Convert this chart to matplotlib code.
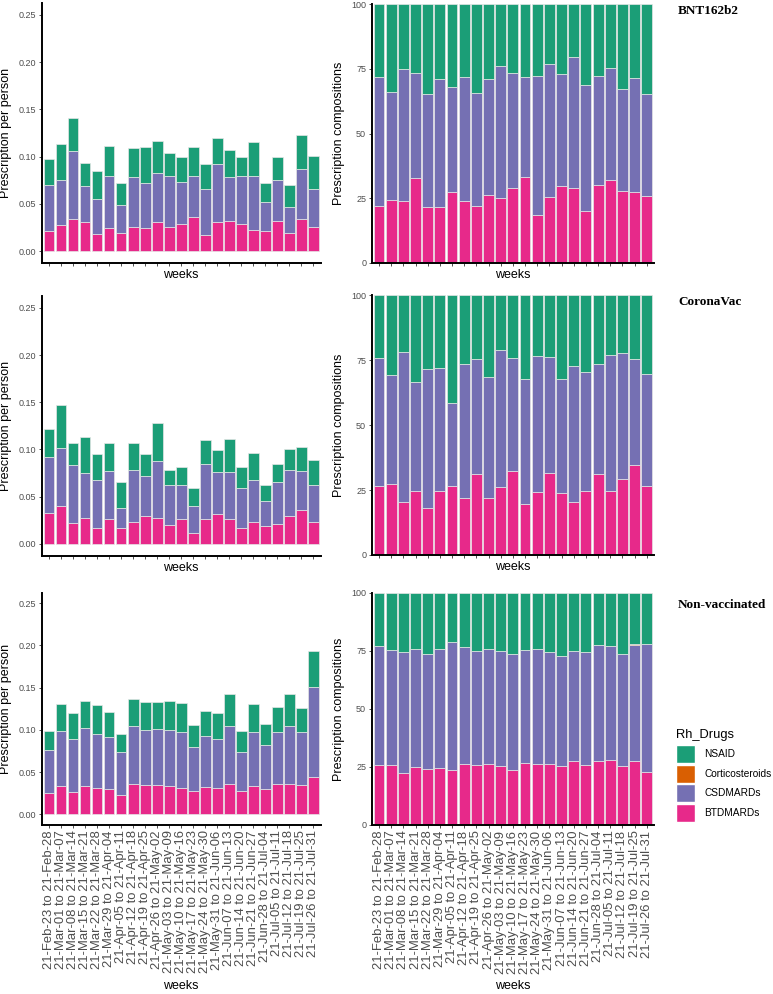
import numpy as np
import matplotlib
matplotlib.use("Agg")
import matplotlib.pyplot as plt
from matplotlib.patches import Patch

# === Données ===
weeks = ["21-Feb-23 to 21-Feb-28", "21-Mar-01 to 21-Mar-07", "21-Mar-08 to 21-Mar-14",
         "21-Mar-15 to 21-Mar-21", "21-Mar-22 to 21-Mar-28", "21-Mar-29 to 21-Apr-04",
         "21-Apr-05 to 21-Apr-11", "21-Apr-12 to 21-Apr-18", "21-Apr-19 to 21-Apr-25",
         "21-Apr-26 to 21-May-02", "21-May-03 to 21-May-09", "21-May-10 to 21-May-16",
         "21-May-17 to 21-May-23", "21-May-24 to 21-May-30", "21-May-31 to 21-Jun-06",
         "21-Jun-07 to 21-Jun-13", "21-Jun-14 to 21-Jun-20", "21-Jun-21 to 21-Jun-27",
         "21-Jun-28 to 21-Jul-04", "21-Jul-05 to 21-Jul-11", "21-Jul-12 to 21-Jul-18",
         "21-Jul-19 to 21-Jul-25", "21-Jul-26 to 21-Jul-31"]

groups = ["BNT162b2", "CoronaVac", "Non-vaccinated"]
drugs = ["NSAID", "Corticosteroids", "CSDMARDs", "BTDMARDs"]
colors = {"NSAID": "#1B9E77", "Corticosteroids": "#D95F02",
          "CSDMARDs": "#7570B3", "BTDMARDs": "#E7298A"}

# BNT162b2
bnt_bt = [0.0215, 0.0278, 0.0338, 0.0306, 0.0183, 0.0243, 0.0197, 0.0261, 0.0243, 0.0306, 0.0261, 0.0289,
          0.0366, 0.0169, 0.0306, 0.0320, 0.0289, 0.0229, 0.0215, 0.0320, 0.0197, 0.0338, 0.0261]
bnt_csd = [0.0489, 0.0472, 0.0718, 0.0381, 0.0370, 0.0549, 0.0292, 0.0521, 0.0479, 0.0521, 0.0531, 0.0443,
           0.0426, 0.0493, 0.0613, 0.0462, 0.0503, 0.0563, 0.0303, 0.0430, 0.0275, 0.0535, 0.0397]
bnt_cort = [0.0] * 23
bnt_nsaid = [0.0275, 0.0384, 0.0352, 0.0250, 0.0292, 0.0324, 0.0229, 0.0306, 0.0380, 0.0335, 0.0250, 0.0264,
             0.0310, 0.0257, 0.0275, 0.0288, 0.0204, 0.0359, 0.0200, 0.0246, 0.0232, 0.0352, 0.0353]

# CoronaVac
cv_bt = [0.0323, 0.0401, 0.0218, 0.0278, 0.0172, 0.0264, 0.0172, 0.0232, 0.0295, 0.0278, 0.0204, 0.0264,
         0.0116, 0.0267, 0.0313, 0.0267, 0.0165, 0.0236, 0.0193, 0.0207, 0.0295, 0.0355, 0.0236]
cv_csd = [0.0598, 0.0618, 0.0612, 0.0474, 0.0506, 0.0502, 0.0208, 0.0552, 0.0419, 0.0594, 0.0415, 0.0355,
          0.0285, 0.0577, 0.0443, 0.0489, 0.0426, 0.0442, 0.0264, 0.0443, 0.0489, 0.0415, 0.0383]
cv_cort = [0.0] * 23
cv_nsaid = [0.0295, 0.0450, 0.0235, 0.0376, 0.0268, 0.0299, 0.0270, 0.0281, 0.0232, 0.0404, 0.0165, 0.0196,
            0.0190, 0.0256, 0.0239, 0.0358, 0.0224, 0.0285, 0.0165, 0.0194, 0.0225, 0.0253, 0.0270]

# Non-vaccinated
nv_bt = [0.0257, 0.0336, 0.0269, 0.0336, 0.0312, 0.0296, 0.0225, 0.0360, 0.0344, 0.0348, 0.0340, 0.0312,
         0.0281, 0.0320, 0.0312, 0.0364, 0.0273, 0.0336, 0.0296, 0.0356, 0.0360, 0.0344, 0.0439]
nv_csd = [0.0506, 0.0648, 0.0624, 0.0680, 0.0641, 0.0621, 0.0518, 0.0691, 0.0656, 0.0660, 0.0664, 0.0664,
          0.0513, 0.0609, 0.0577, 0.0676, 0.0466, 0.0636, 0.0530, 0.0624, 0.0687, 0.0628, 0.1063]
nv_cort = [0, 0, 0, 0.0004, 0, 0, 0, 0, 0, 0, 0, 0, 0, 0, 0, 0, 0, 0, 0, 0, 0, 0.0005, 0]
nv_nsaid = [0.0225, 0.0324, 0.0309, 0.0324, 0.0343, 0.0292, 0.0202, 0.0317, 0.0332, 0.0324, 0.0336, 0.0348,
            0.0261, 0.0296, 0.0305, 0.0387, 0.0245, 0.0332, 0.0241, 0.0289, 0.0372, 0.0280, 0.0427]

data = {
    "BNT162b2": {"BTDMARDs": bnt_bt, "CSDMARDs": bnt_csd, "Corticosteroids": bnt_cort, "NSAID": bnt_nsaid},
    "CoronaVac": {"BTDMARDs": cv_bt, "CSDMARDs": cv_csd, "Corticosteroids": cv_cort, "NSAID": cv_nsaid},
    "Non-vaccinated": {"BTDMARDs": nv_bt, "CSDMARDs": nv_csd, "Corticosteroids": nv_cort, "NSAID": nv_nsaid},
}

# === Mise en page (pixels -> fractions) ===
W, H = 773, 994
fig = plt.figure(figsize=(W / 100, H / 100), dpi=100)
plt.rcParams['font.family'] = ['Liberation Sans', 'DejaVu Sans']

rows = [(3, 263, 4, 263), (296, 555.6, 295, 555), (592.7, 824.8, 592.7, 825)]
left_x, left_w = 41.7, 279
right_x, right_w = 371.7, 282.3
title_y = [11, 302, 605]

x = np.arange(1, 24)
stack_order = ["BTDMARDs", "CSDMARDs", "Corticosteroids", "NSAID"]
grey = "#4D4D4D"


def style_axis(ax, last):
    for s in ["top", "right"]:
        ax.spines[s].set_visible(False)
    for s in ["left", "bottom"]:
        ax.spines[s].set_linewidth(1.4)
        ax.spines[s].set_color("black")
    ax.set_xlim(0.4, 23.6)
    ax.set_xticks(x)
    ax.tick_params(axis="both", length=2.5, width=0.6, color="#333333", labelcolor=grey, pad=1.5)
    ax.tick_params(axis="y", labelsize=6.5)
    if last:
        ax.set_xticklabels(weeks, rotation=90, fontsize=9.4, color=grey, va="top", ha="center")
    else:
        ax.set_xticklabels([])


for i, g in enumerate(groups):
    lt, lb, rt, rb = rows[i]
    last = (i == 2)
    axl = fig.add_axes([left_x / W, 1 - lb / H, left_w / W, (lb - lt) / H])
    axr = fig.add_axes([right_x / W, 1 - rb / H, right_w / W, (rb - rt) / H])

    vals = {d: np.array(data[g][d]) for d in drugs}
    total = sum(vals[d] for d in drugs)

    bottom_l = np.zeros(23)
    bottom_r = np.zeros(23)
    for d in stack_order:
        axl.bar(x, vals[d], 0.9, bottom=bottom_l, color=colors[d], edgecolor="#e6e6e6", linewidth=0.5)
        pct = vals[d] / total * 100
        axr.bar(x, pct, 0.9, bottom=bottom_r, color=colors[d], edgecolor="#e6e6e6", linewidth=0.5)
        bottom_l += vals[d]
        bottom_r += pct

    axl.set_ylim(-0.0125, 0.2625)
    axl.set_yticks([0, 0.05, 0.10, 0.15, 0.20, 0.25])
    axl.set_yticklabels(["0.00", "0.05", "0.10", "0.15", "0.20", "0.25"])
    axr.set_ylim(0, 100)
    axr.set_yticks([0, 25, 50, 75, 100])

    style_axis(axl, last)
    style_axis(axr, last)

    axl.set_ylabel("Prescription per person", fontsize=9)
    axl.yaxis.set_label_coords(-0.105, 0.5)
    axr.set_ylabel("Prescription compositions", fontsize=9)
    axr.yaxis.set_label_coords(-0.095, 0.5)

    axl.set_xlabel("weeks", fontsize=9)
    axr.set_xlabel("weeks", fontsize=9)
    if last:
        axl.xaxis.set_label_coords(0.5, -0.668)
        axr.xaxis.set_label_coords(0.5, -0.668)
    else:
        axl.xaxis.set_label_coords(0.5, -0.025)
        axr.xaxis.set_label_coords(0.5, -0.025)

    fig.text(678 / W, 1 - title_y[i] / H, g, fontsize=9.5, fontweight="bold",
             family="Liberation Serif", va="center", ha="left")

# === Légende ===
handles = [Patch(facecolor=colors[d], edgecolor="white") for d in drugs]
leg = fig.legend(handles, drugs, loc="upper left", bbox_to_anchor=(676 / W, 1 - 729 / H),
                 title="Rh_Drugs", fontsize=7.3, title_fontsize=9.3, frameon=False,
                 handlelength=1.9, handleheight=2.36, labelspacing=0.15, handletextpad=0.9,
                 borderaxespad=0, borderpad=0)
leg._legend_box.align = "left"
leg._legend_box.sep = 3

fig.savefig("out.png", dpi=100)
